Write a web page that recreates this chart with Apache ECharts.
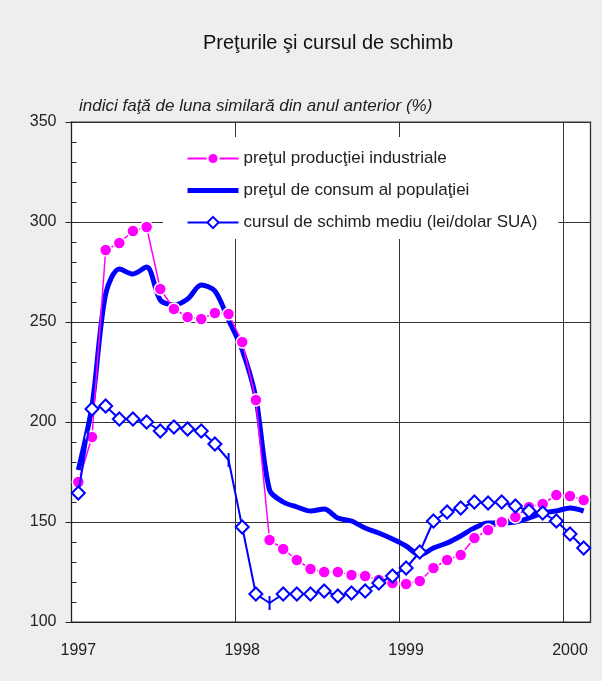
<!DOCTYPE html>
<html>
<head>
<meta charset="utf-8">
<script src="https://cdn.jsdelivr.net/npm/echarts@6/dist/echarts.min.js"></script>
<style>
html,body{margin:0;padding:0;background:#eeeeee;}
#chart{width:602px;height:681px;}
</style>
</head>
<body>
<div id="chart"></div>
<script>
const months = [
  '1997-01','1997-02','1997-03','1997-04','1997-05','1997-06','1997-07','1997-08','1997-09','1997-10','1997-11','1997-12',
  '1998-01','1998-02','1998-03','1998-04','1998-05','1998-06','1998-07','1998-08','1998-09','1998-10','1998-11','1998-12',
  '1999-01','1999-02','1999-03','1999-04','1999-05','1999-06','1999-07','1999-08','1999-09','1999-10','1999-11','1999-12',
  '2000-01','2000-02'
];
const yearLabels = ['1997','1998','1999','2000'];
const yTicks = [100, 150, 200, 250, 300, 350];

const seriesNames = [
  'preţul producţiei industriale',
  'preţul de consum al populaţiei',
  'cursul de schimb mediu (lei/dolar SUA)'
];

const industrialPrices = [
  170, 192.5, 286, 289.5, 295.5, 297.5, 266.5, 256.5, 252.5, 251.5, 254.5, 254,
  240, 211, 141, 136.5, 131, 126.5, 125, 125, 123.5, 123, 121, 119.5,
  119, 120.5, 127, 131, 133.5, 142, 146, 150, 152.5, 157.5, 159, 163.5,
  163, 161
];
const consumerPrices = [
  176, 208, 264, 276.5, 274, 277.5, 261, 258.5, 261.5, 268.5, 265.5, 251,
  236, 212, 166, 160, 157.5, 155.5, 156.5, 152, 150.5, 147, 144.5, 141.5,
  138, 133.5, 137, 139.5, 143, 147, 149.5, 149.5, 150, 152, 154.5, 155.5,
  157, 155.5
];
const exchangeRate = [
  164.5, 206.5, 208, 201.5, 201.5, 200, 195.5, 197.5, 196.5, 195.5, 189, 181,
  147.5, 114, 109.5, 114, 114, 114, 115.5, 113, 114.5, 115.5, 119.5, 123,
  127, 135, 150.5, 155, 157, 160, 159.5, 160, 158, 155.5, 154.5, 150.5,
  144, 137
];
// months where the exchange-rate marker is drawn as a vertical tick
const tickMarkerIdx = [11, 14];

const FONT = '"Liberation Sans", Arial, Helvetica, sans-serif';
const BLUE = '#0000ff';
const MAGENTA = '#ff00ff';

const exchangeData = exchangeRate.map((v, i) => tickMarkerIdx.includes(i)
  ? { value: v, symbol: 'rect', symbolSize: [2, 14], itemStyle: { color: BLUE, borderColor: BLUE, borderWidth: 0 } }
  : v);

const chart = echarts.init(document.getElementById('chart'), null, { renderer: 'canvas' });
chart.setOption({
  backgroundColor: '#eeeeee',
  animation: false,
  textStyle: { fontFamily: FONT },
  title: [
    { text: 'Preţurile şi cursul de schimb', left: 198, top: 28,
      textStyle: { fontFamily: FONT, fontSize: 20, fontWeight: 'normal', color: '#111' } },
    { text: 'indici faţă de luna similară din anul anterior (%)', left: 74, top: 93,
      textStyle: { fontFamily: FONT, fontSize: 17, fontStyle: 'italic', fontWeight: 'normal', color: '#222' } }
  ],
  grid: { left: 71.5, right: 11.5, top: 122, bottom: 59, show: true, backgroundColor: '#ffffff', borderColor: '#777', borderWidth: 1.5 },
  legend: {
    orient: 'vertical', left: 163, top: 137,
    data: [
      { name: seriesNames[0] },
      { name: seriesNames[1], itemStyle: { color: 'rgba(0,0,0,0)', borderWidth: 0 }, lineStyle: { width: 5, color: BLUE } },
      { name: seriesNames[2] }
    ],
    backgroundColor: '#ffffff',
    padding: [13, 21, 8, 22],
    itemWidth: 51, itemHeight: 14, itemGap: 15,
    textStyle: { fontFamily: FONT, fontSize: 17, color: '#222' }
  },
  xAxis: {
    type: 'category', data: months, boundaryGap: true,
    axisLine: { show: true, lineStyle: { color: '#222', width: 1 } },
    axisTick: { show: false },
    axisLabel: {
      interval: (i) => i % 12 === 0,
      formatter: (v, i) => yearLabels[Math.floor(i / 12)],
      margin: 21, fontSize: 16, color: '#222', fontFamily: FONT
    },
    splitLine: { show: true, interval: (i) => i % 12 === 0, lineStyle: { color: '#333', width: 1 } }
  },
  yAxis: [
    {
      type: 'value', min: yTicks[0], max: yTicks[yTicks.length - 1], interval: 50, position: 'left',
      axisLine: { show: true, lineStyle: { color: '#222', width: 1 } },
      axisTick: { show: true, inside: false, length: 6, lineStyle: { color: '#222' } },
      axisLabel: { margin: 15, fontSize: 16, color: '#222', fontFamily: FONT },
      splitLine: { show: true, lineStyle: { color: '#333', width: 1 } }
    },
    {
      type: 'value', min: yTicks[0], max: yTicks[yTicks.length - 1], interval: 10, position: 'left', offset: 0,
      axisLine: { show: false },
      axisTick: { show: true, inside: true, length: 5, lineStyle: { color: '#222' } },
      axisLabel: { show: false },
      splitLine: { show: false }
    }
  ],
  series: [
    {
      name: seriesNames[1], type: 'line', data: consumerPrices, z: 2,
      smooth: 0.3, symbol: 'none',
      lineStyle: { color: BLUE, width: 5 }, itemStyle: { color: BLUE }
    },
    {
      name: seriesNames[0], type: 'line', data: industrialPrices, z: 3,
      symbol: 'circle', symbolSize: 12, showAllSymbol: true,
      lineStyle: { color: MAGENTA, width: 1.5 },
      itemStyle: { color: MAGENTA, borderColor: '#ffffff', borderWidth: 1.5 }
    },
    {
      name: seriesNames[2], type: 'line', data: exchangeData, z: 4,
      symbol: 'diamond', symbolSize: 13, showAllSymbol: true,
      lineStyle: { color: BLUE, width: 2 },
      itemStyle: { color: '#ffffff', borderColor: BLUE, borderWidth: 2 }
    }
  ]
});
</script>
</body>
</html>
